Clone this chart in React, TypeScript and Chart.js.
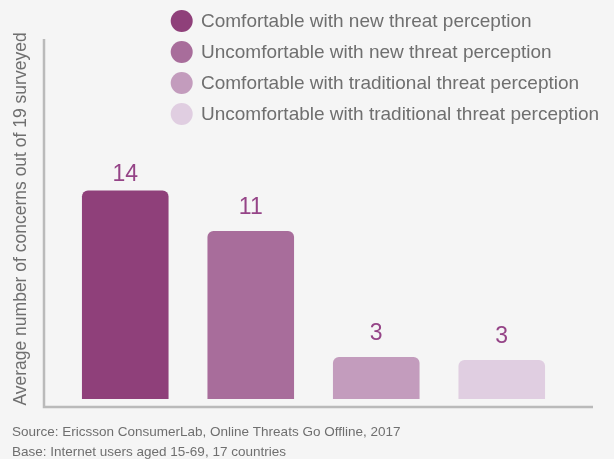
import React, { useEffect, useRef } from "react";
import { Chart, registerables } from "chart.js";

Chart.register(...registerables);

const categories = [
  "Comfortable with new threat perception",
  "Uncomfortable with new threat perception",
  "Comfortable with traditional threat perception",
  "Uncomfortable with traditional threat perception",
];
const values = [13.9, 11.2, 2.8, 2.6];
const valueLabels = ["14", "11", "3", "3"];
const barColors = ["#8f407a", "#a86d9b", "#c39cbd", "#e0cee1"];
const yTitle = "Average number of concerns out of 19 surveyed";
const sourceLines = [
  "Source: Ericsson ConsumerLab, Online Threats Go Offline, 2017",
  "Base: Internet users aged 15-69, 17 countries",
];

const FONT = "'Liberation Sans', Arial, Helvetica, sans-serif";
const GRAY = "#6f6f6f";

const decorPlugin = {
  id: "decor",
  beforeDatasetsDraw(chart: any) {
    const { ctx, chartArea } = chart;
    const axisLeft = chartArea.left - 18.5;
    const axisBottom = chartArea.bottom + 8;
    ctx.save();
    ctx.strokeStyle = "#bababa";
    ctx.lineWidth = 2.5;
    ctx.beginPath();
    ctx.moveTo(axisLeft, chartArea.top);
    ctx.lineTo(axisLeft, axisBottom);
    ctx.lineTo(chartArea.right + 28.5, axisBottom);
    ctx.stroke();
    ctx.restore();
  },
  afterDatasetsDraw(chart: any) {
    const { ctx, chartArea } = chart;
    const meta = chart.getDatasetMeta(0);
    ctx.save();
    // value labels
    ctx.font = `23px ${FONT}`;
    ctx.fillStyle = "#954487";
    ctx.textAlign = "center";
    ctx.textBaseline = "middle";
    meta.data.forEach((el: any, i: number) => {
      const y = Math.max(el.y - 23, chartArea.top + 136);
      ctx.fillText(valueLabels[i], el.x, y);
    });
    // legend
    ctx.font = `19px ${FONT}`;
    ctx.textAlign = "left";
    categories.forEach((label, i) => {
      const cy = 21 + i * 31;
      ctx.fillStyle = barColors[i];
      ctx.beginPath();
      ctx.arc(181.7, cy, 11, 0, Math.PI * 2);
      ctx.fill();
      ctx.fillStyle = GRAY;
      ctx.fillText(label, 201, cy + 1);
    });
    // source
    ctx.font = `13.5px ${FONT}`;
    ctx.fillStyle = GRAY;
    sourceLines.forEach((line, i) => {
      ctx.fillText(line, 12, 432.5 + i * 19.5);
    });
    ctx.restore();
  },
};

export default function App() {
  const canvasRef = useRef<HTMLCanvasElement | null>(null);

  useEffect(() => {
    if (!canvasRef.current) return;
    const chart = new Chart(canvasRef.current, {
      type: "bar",
      data: {
        labels: categories,
        datasets: [
          {
            data: values,
            backgroundColor: barColors,
            borderRadius: 6,
            borderSkipped: "bottom",
            barPercentage: 0.69,
            categoryPercentage: 1,
          },
        ],
      },
      options: {
        responsive: false,
        animation: false,
        layout: { padding: { left: 10, right: 49.5, top: 39, bottom: 60 } },
        plugins: {
          legend: { display: false },
          tooltip: { enabled: false },
          title: { display: false },
        },
        scales: {
          x: { display: false },
          y: {
            min: 0,
            max: 24,
            grid: { display: false },
            border: { display: false },
            ticks: { display: false },
            title: {
              display: true,
              text: yTitle,
              color: GRAY,
              font: { size: 17.5, family: FONT, lineHeight: 1.2 },
              padding: { top: 1, bottom: 22.5 },
            },
          },
        },
      },
      plugins: [decorPlugin],
    });
    return () => chart.destroy();
  }, []);

  return (
    <div
      style={{
        position: "absolute",
        left: 0,
        top: 0,
        width: 614,
        height: 459,
        background: "#f5f5f5",
      }}
    >
      <canvas ref={canvasRef} width={614} height={459} />
    </div>
  );
}
